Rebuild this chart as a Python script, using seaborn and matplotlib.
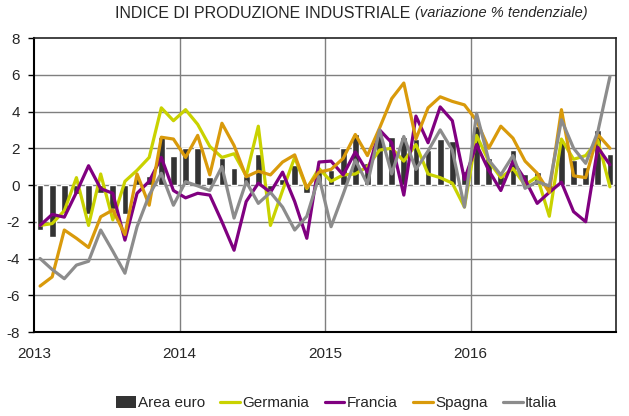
import matplotlib
matplotlib.use("Agg")
import matplotlib.pyplot as plt
import seaborn as sns
import numpy as np
import pandas as pd
from matplotlib.patches import Patch
from matplotlib.lines import Line2D
from matplotlib import font_manager

years = ["2013", "2014", "2015", "2016"]
series_names = ["Area euro", "Germania", "Francia", "Spagna", "Italia"]

area_euro = [-2.45, -2.85, -1.5, -0.5, -1.6, -0.45, -1.3, -1.6, 0.45, 0.5, 2.6, 1.6,
             2.0, 2.0, 0.45, 1.45, 0.9, 0.5, 1.7, -0.27, 0.3, 1.1, -0.45, 0.8,
             0.8, 2.0, 2.8, 1.2, 2.9, 2.6, 2.6, 2.5, 1.9, 2.5, 2.4, 0.75,
             3.2, 1.45, 0.6, 1.9, 0.6, 0.7, -0.3, 2.4, 1.36, 1.0, 3.0, 1.7]
germania = [-2.2, -2.1, -1.4, 0.4, -2.2, 0.6, -1.9, 0.2, 0.8, 1.5, 4.2, 3.5,
            4.1, 3.3, 2.1, 1.5, 1.7, 0.5, 3.2, -2.2, -0.3, 1.5, -0.2, 0.9,
            0.2, 0.55, 0.6, 1.0, 1.9, 2.0, 1.3, 2.2, 0.6, 0.4, 0.1, -1.2,
            2.7, 1.3, 0.4, 0.9, 0.0, 0.45, -1.7, 2.5, 1.4, 1.6, 2.45, -0.1]
francia = [-2.2, -1.6, -1.75, -0.4, 1.05, -0.2, -0.45, -3.0, -0.45, 0.2, 1.5, -0.3,
           -0.7, -0.45, -0.55, -2.0, -3.55, -0.9, 0.1, -0.4, 0.7, -0.9, -2.9, 1.25,
           1.3, 0.55, 1.8, 0.7, 3.0, 2.3, -0.55, 3.75, 2.3, 4.25, 3.5, 0.3,
           2.2, 0.8, -0.3, 1.3, 0.3, -1.0, -0.4, 0.15, -1.45, -2.0, 2.05, 1.1]
spagna = [-5.5, -5.0, -2.45, -2.9, -3.4, -1.73, -1.36, -2.7, 0.6, -1.1, 2.6, 2.5,
          1.5, 2.7, 0.55, 3.36, 2.15, 0.45, 0.75, 0.55, 1.25, 1.64, -0.15, 0.7,
          0.85, 1.45, 2.75, 1.6, 3.1, 4.7, 5.55, 2.5, 4.2, 4.8, 4.55, 4.36,
          3.5, 2.0, 3.2, 2.55, 1.3, 0.64, -0.4, 4.1, 0.5, 0.4, 2.75, 2.0]
italia = [-4.0, -4.6, -5.1, -4.36, -4.15, -2.45, -3.6, -4.8, -2.27, -0.55, 0.64, -1.1,
          0.18, -0.05, -0.3, 1.0, -1.8, 0.18, -1.0, -0.4, -1.2, -2.45, -1.7, 0.45,
          -2.27, -0.5, 1.36, 0.05, 3.0, 0.6, 2.64, 0.85, 1.85, 3.0, 1.9, -1.2,
          3.9, 1.36, 0.55, 1.6, -0.18, 0.18, -0.05, 3.55, 2.0, 1.18, 2.9, 5.9]

colors = {"Area euro": "#333333", "Germania": "#C9D200", "Francia": "#800080",
          "Spagna": "#D99A0B", "Italia": "#8C8C8C"}

avail = {f.name for f in font_manager.fontManager.ttflist}
fam = "Liberation Sans Narrow" if "Liberation Sans Narrow" in avail else "Liberation Sans"

sns.set_style("white")
plt.rcParams["font.family"] = [fam, "DejaVu Sans"]

n = len(area_euro)
idx = np.arange(n)
df_bar = pd.DataFrame({"m": idx, "v": area_euro})
lines = {"Germania": germania, "Francia": francia, "Spagna": spagna, "Italia": italia}
df_lines = pd.concat([pd.DataFrame({"m": idx, "v": vals, "s": name}) for name, vals in lines.items()])

fig = plt.figure(figsize=(6.29, 4.16), dpi=100)
ax = fig.add_axes([34/629, 1-332/416, (616-34)/629, (332-38)/416])

# grid
for yv in range(-6, 8, 2):
    ax.axhline(yv, color="#7f7f7f", lw=1.0, zorder=0)
for xv in [11.5, 23.5, 35.5]:
    ax.axvline(xv, color="#7f7f7f", lw=1.0, zorder=0)

sns.barplot(data=df_bar, x="m", y="v", color=colors["Area euro"], width=0.55,
            saturation=1, ax=ax, zorder=2, order=list(idx))
sns.lineplot(data=df_lines, x="m", y="v", hue="s",
             palette={k: colors[k] for k in lines}, lw=2.3, ax=ax, legend=False,
             zorder=3)

ax.set_xlim(-0.5, n - 0.5)
ax.set_ylim(-8, 8)
ax.set_yticks(range(-8, 9, 2))
ax.set_yticklabels([str(v) for v in range(-8, 9, 2)], fontsize=11)
ax.set_xticks([-0.5, 11.5, 23.5, 35.5])
ax.set_xticklabels(years, fontsize=11)
ax.set_xlabel("")
ax.set_ylabel("")
ax.tick_params(axis="y", length=4, width=1, color="black", pad=6, direction="out", left=True)
ax.tick_params(axis="x", length=0, pad=11)
for sp in ["left", "bottom"]:
    ax.spines[sp].set_color("black")
    ax.spines[sp].set_linewidth(1.5)
for sp in ["top", "right"]:
    ax.spines[sp].set_color("#222222")
    ax.spines[sp].set_linewidth(1.2)

fig.text(0.66, 0.968, "INDICE DI PRODUZIONE INDUSTRIALE ", ha="right", va="center", fontsize=11.5)
fig.text(0.66, 0.968, "(variazione % tendenziale)", ha="left", va="center", fontsize=10.5, style="italic")

handles = [Patch(facecolor=colors["Area euro"], edgecolor="none")] + \
          [Line2D([0], [0], color=colors[k], lw=2.3) for k in lines]
fig.legend(handles, series_names, loc="center", bbox_to_anchor=(0.535, 0.031), ncol=5,
           frameon=False, fontsize=11, handlelength=1.3, handletextpad=0.15,
           columnspacing=1.0, handleheight=0.9)

fig.savefig("out.png", dpi=100)
